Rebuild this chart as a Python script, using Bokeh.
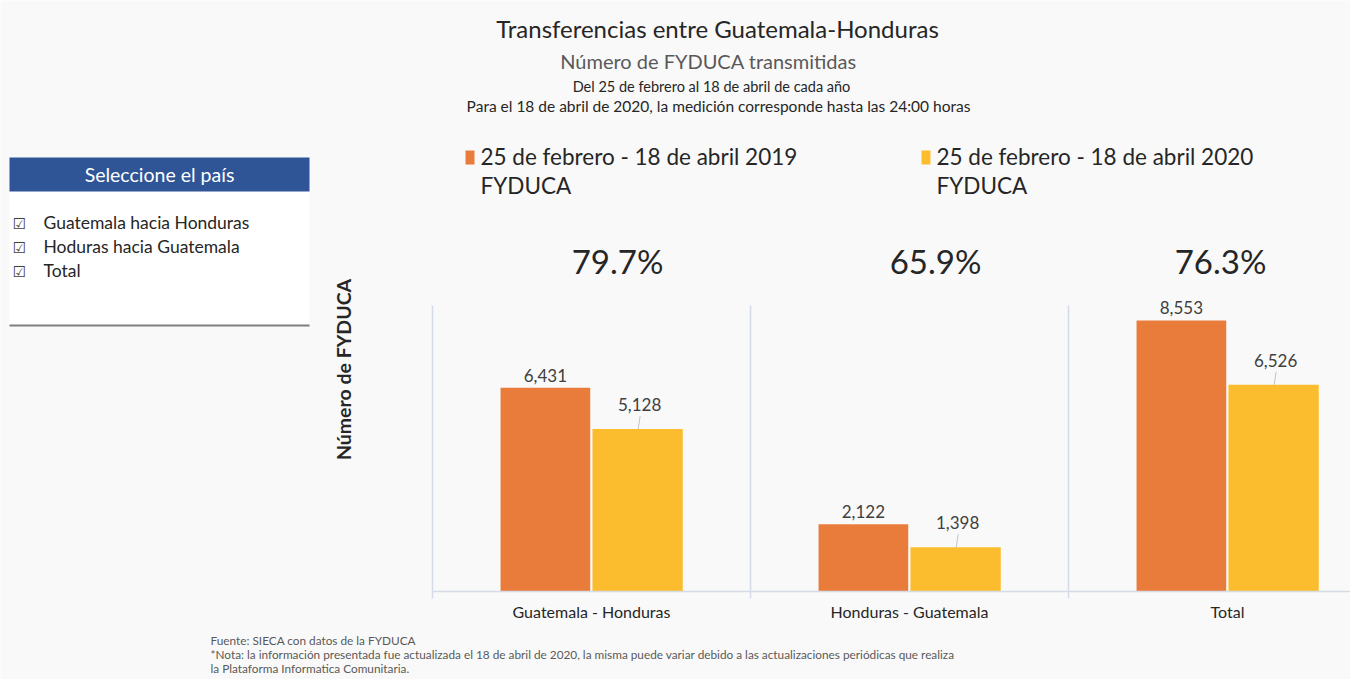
import numpy as np
from bokeh.plotting import figure
from bokeh.core.properties import value
from bokeh.models import (ColumnDataSource, LabelSet, Label, BoxAnnotation,
                          FixedTicker, Range1d, LinearAxis)
from bokeh.embed import file_html
from bokeh.resources import INLINE

# ---------------- data ----------------
categories = ["Guatemala - Honduras", "Honduras - Guatemala", "Total"]
fyduca_2019 = [6431, 2122, 8553]
fyduca_2020 = [5128, 1398, 6526]
series_names = ["25 de febrero - 18 de abril 2019", "25 de febrero - 18 de abril 2020"]
panel_items = ["Guatemala hacia Honduras", "Hoduras hacia Guatemala", "Total"]

# ---------------- style ----------------
W, H = 1350, 679
ORANGE = "#E97C3B"
YELLOW = "#FBBD2E"
BG = "#F9F9F9"
AXIS = "#D6DCE5"
DARK = "#262626"
FONT = "Lato"
Y_MAX = 9025          # top of the plotting area (data units)
PLOT_H = 286          # px height of plotting area
CAT_W = 318           # px per category
X0_PX, Y0_PX = 432, 88  # origin of the plot area within the canvas (from left / from bottom)

k = Y_MAX / PLOT_H


def sx(px):
    return px


def sy(py):
    return H - py


p = figure(width=W, height=H,
           x_range=Range1d(-X0_PX / CAT_W, (W - X0_PX) / CAT_W),
           y_range=Range1d(-Y0_PX * k, (H - Y0_PX) * k),
           x_axis_location=None, y_axis_location=None,
           output_backend="svg", toolbar_location=None, min_border=0,
           background_fill_color=BG, border_fill_color=BG, outline_line_color=None)
p.xgrid.visible = False
p.ygrid.visible = False

idx = np.arange(len(categories))
x19 = idx + 0.5 - 0.145
x20 = idx + 0.5 + 0.145
src19 = ColumnDataSource(dict(x=x19, top=fyduca_2019, lbl=[f"{v:,}" for v in fyduca_2019]))
src20 = ColumnDataSource(dict(x=x20, top=fyduca_2020, lbl=[f"{v:,}" for v in fyduca_2020]))

# category separators
seps = np.arange(1, len(categories))
p.segment(x0=seps, y0=[0] * len(seps), x1=seps, y1=[Y_MAX] * len(seps),
          line_color=AXIS, line_width=1.5)

p.vbar(x="x", top="top", width=0.282, source=src19, fill_color=ORANGE, line_color=None)
p.vbar(x="x", top="top", width=0.284, source=src20, fill_color=YELLOW, line_color=None)

# axes (fixed at the origin of the data)
xaxis = LinearAxis(fixed_location=0, bounds=(0, (W - X0_PX) / CAT_W))
xaxis.ticker = FixedTicker(ticks=list(idx + 0.5), minor_ticks=list(range(len(categories) + 1)))
xaxis.major_label_overrides = {float(i + 0.5): c for i, c in enumerate(categories)}
xaxis.major_tick_line_color = None
xaxis.minor_tick_line_color = AXIS
xaxis.minor_tick_line_width = 1.5
xaxis.minor_tick_in = 0
xaxis.minor_tick_out = 7
xaxis.axis_line_color = AXIS
xaxis.axis_line_width = 1.5
xaxis.major_label_standoff = 3
xaxis.major_label_text_font = FONT
xaxis.major_label_text_font_size = "16px"
xaxis.major_label_text_color = DARK
p.add_layout(xaxis, "below")

yaxis = LinearAxis(fixed_location=0, bounds=(0, Y_MAX))
yaxis.ticker = FixedTicker(ticks=[])
yaxis.major_label_text_font_size = "0px"
yaxis.axis_line_color = AXIS
yaxis.axis_line_width = 1.5
yaxis.major_tick_line_color = None
yaxis.minor_tick_line_color = None
p.add_layout(yaxis, "left")

# leader lines for the 2020 labels
lead = ColumnDataSource(dict(x0=x20 + 0.002, y0=fyduca_2020,
                             x1=x20 + 0.008, y1=np.array(fyduca_2020) + 13 * k))
p.segment(x0="x0", y0="y0", x1="x1", y1="y1", source=lead, line_color="#AEB6C2", line_width=0.8)

p.add_layout(LabelSet(x="x", y="top", text="lbl", source=src19, text_align="center",
                      text_baseline="bottom", y_offset=6, text_font=value(FONT),
                      text_font_size="17px", text_color="#404040"))
p.add_layout(LabelSet(x="x", y="top", text="lbl", source=src20, text_align="center",
                      text_baseline="bottom", y_offset=18, x_offset=2, text_font=value(FONT),
                      text_font_size="17px", text_color="#404040"))

# percentages (2020 / 2019)
pct = [f"{b / a * 100:.1f}%" for a, b in zip(fyduca_2019, fyduca_2020)]
pct_off = np.array([0.082, 0.082, -0.022])
src_pct = ColumnDataSource(dict(x=idx + 0.5 + pct_off, y=[sy(260)] * len(pct), t=pct))
p.add_layout(LabelSet(x="x", y="y", y_units="screen", text="t", source=src_pct,
                      text_align="center", text_baseline="middle", text_font=value(FONT),
                      text_font_size="33px", text_color=DARK))

# y label
p.add_layout(Label(x=sx(343), y=sy(369), x_units="screen", y_units="screen",
                   text="Número de FYDUCA", angle=np.pi / 2, text_align="center",
                   text_baseline="middle", text_font=FONT, text_font_size="19.5px",
                   text_font_style="bold", text_color=DARK))

# titles
titles = [("Transferencias entre Guatemala-Honduras", 717, 28, "24px", DARK),
          ("Número de FYDUCA transmitidas", 708, 60, "20px", "#595959"),
          ("Del 25 de febrero al 18 de abril de cada año", 711, 86, "14.5px", DARK),
          ("Para el 18 de abril de 2020, la medición corresponde hasta las 24:00 horas", 718, 105, "15.5px", DARK)]
for t, x, y, fs, col in titles:
    p.add_layout(Label(x=sx(x), y=sy(y), x_units="screen", y_units="screen", text=t,
                       text_align="center", text_baseline="middle", text_font=FONT,
                       text_font_size=fs, text_color=col))

# legend
for (name, col, lx) in [(series_names[0], ORANGE, 465), (series_names[1], YELLOW, 921)]:
    p.add_layout(BoxAnnotation(left=sx(lx), right=sx(lx + 9), top=sy(150), bottom=sy(164),
                               left_units="screen", right_units="screen",
                               top_units="screen", bottom_units="screen",
                               fill_color=col, fill_alpha=1, line_color=None))
    p.add_layout(Label(x=sx(lx + 15), y=sy(156), x_units="screen", y_units="screen",
                       text=name, text_baseline="middle", text_font=FONT,
                       text_font_size="22.5px", text_color=DARK))
    p.add_layout(Label(x=sx(lx + 15), y=sy(185), x_units="screen", y_units="screen",
                       text="FYDUCA", text_baseline="middle", text_font=FONT,
                       text_font_size="22.5px", text_color=DARK))

# left panel
p.add_layout(BoxAnnotation(left=sx(9), right=sx(309), top=sy(191), bottom=sy(325),
                           left_units="screen", right_units="screen",
                           top_units="screen", bottom_units="screen",
                           fill_color="white", fill_alpha=1, line_color=None))
p.add_layout(BoxAnnotation(left=sx(9), right=sx(309), top=sy(324), bottom=sy(326),
                           left_units="screen", right_units="screen",
                           top_units="screen", bottom_units="screen",
                           fill_color="#7F7F7F", fill_alpha=1, line_color=None))
p.add_layout(BoxAnnotation(left=sx(9), right=sx(309), top=sy(157), bottom=sy(191),
                           left_units="screen", right_units="screen",
                           top_units="screen", bottom_units="screen",
                           fill_color="#2F5597", fill_alpha=1, line_color=None))
p.add_layout(Label(x=sx(159), y=sy(174), x_units="screen", y_units="screen",
                   text="Seleccione el país", text_align="center", text_baseline="middle",
                   text_font=FONT, text_font_size="19.5px", text_color="white"))
for i, item in enumerate(panel_items):
    yy = 222 + i * 24
    p.add_layout(Label(x=sx(19), y=sy(yy + 1), x_units="screen", y_units="screen",
                       text="☑", text_align="center", text_baseline="middle",
                       text_font="DejaVu Sans", text_font_size="15px", text_color="#404040"))
    p.add_layout(Label(x=sx(43), y=sy(yy), x_units="screen", y_units="screen",
                       text=item, text_baseline="middle",
                       text_font=FONT, text_font_size="17.5px", text_color=DARK))

# footnotes
notes = ["Fuente: SIECA con datos de la FYDUCA",
         "*Nota: la información presentada fue actualizada el 18 de abril de 2020, la misma puede variar debido a las actualizaciones periódicas que realiza",
         "la Plataforma Informatica Comunitaria."]
for i, n in enumerate(notes):
    p.add_layout(Label(x=sx(210), y=sy(640 + i * 14), x_units="screen", y_units="screen",
                       text=n, text_baseline="middle", text_font=FONT,
                       text_font_size="11.8px", text_color="#595959"))

open("out.html", "w").write(file_html(p, INLINE))
